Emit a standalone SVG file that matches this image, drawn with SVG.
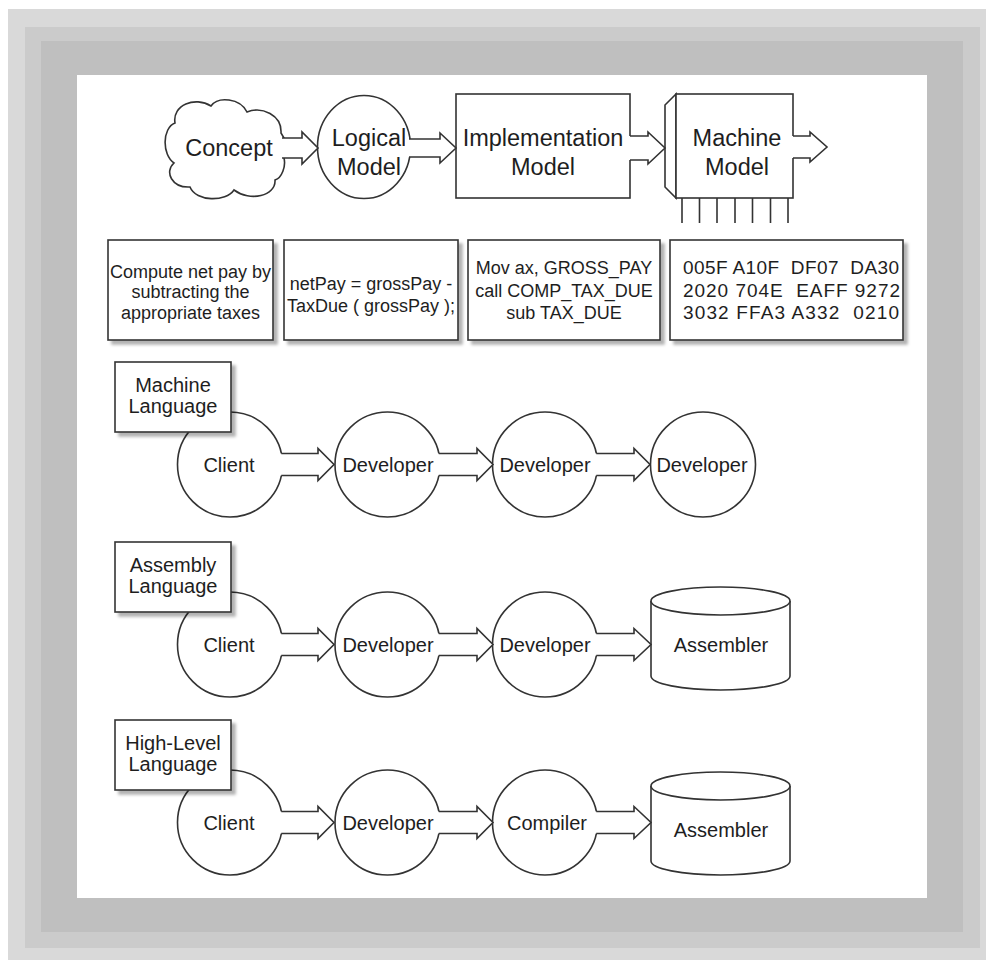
<svg xmlns="http://www.w3.org/2000/svg" width="986" height="960" viewBox="0 0 986 960">
<defs>
<filter id="sh" x="-10%" y="-10%" width="130%" height="130%"><feDropShadow dx="4" dy="4" stdDeviation="1.5" flood-color="#000" flood-opacity="0.3"/></filter>
<style>
.s{fill:#fff;stroke:#333;stroke-width:1.6}
.ln{fill:none;stroke:#333;stroke-width:1.6}
.af{fill:#fff;stroke:none}
.t{font-family:"Liberation Sans",Arial,sans-serif;fill:#1e1e1e;text-anchor:middle}
.l{text-anchor:start;white-space:pre}
.big{font-size:23.5px}
.mid{font-size:20px}
.sm{font-size:18px}
.hx{font-size:19px}
</style>
</defs>
<rect x="0" y="0" width="986" height="960" fill="#fff"/>
<rect x="8" y="9" width="978" height="951" fill="#d9d9d9"/>
<rect x="25" y="27" width="955" height="921" fill="#cbcbcb"/>
<rect x="41" y="41" width="922" height="891" fill="#bfbfbf"/>
<rect x="77" y="75" width="850" height="823" fill="#fff"/>

<g id="concept">
<path class="s" d="M175,123 C172,105 195,96 211,106 C218,96 240,98 247,112 C262,106 282,115 281,133 L284,138 L284,158 C286,166 282,178 275,180 C276,196 250,202 234,190 C226,202 196,202 190,187 C172,188 164,172 174,163 C162,155 162,128 175,123 Z"/>
<text class="t big" x="229" y="156">Concept</text>
</g>
<g id="logical">
<ellipse class="s" cx="364" cy="147" rx="46.5" ry="51.5"/>
<text class="t big" x="369" y="146">Logical</text>
<text class="t big" x="369" y="175">Model</text>
</g>
<g id="implementation">
<rect class="s" x="456" y="94" width="174" height="104"/>
<text class="t big" x="543" y="146">Implementation</text>
<text class="t big" x="543" y="175">Model</text>
</g>
<g id="machine">
<polygon class="s" points="676,94 665,105 665,187 676,198"/>
<rect class="s" x="676" y="94" width="117" height="104"/>
<path class="ln" d="M682,198V223M699.5,198V223M717,198V223M735,198V223M752.5,198V223M770.5,198V223M788,198V223"/>
<text class="t big" x="737" y="146">Machine</text>
<text class="t big" x="737" y="175">Model</text>
</g>

<g id="box-concept" filter="url(#sh)">
<rect class="s" x="108" y="240" width="165" height="100"/>
</g>
<g id="box-concept-text">
<text class="t sm" x="190.5" y="278">Compute net pay by</text>
<text class="t sm" x="190.5" y="298">subtracting the</text>
<text class="t sm" x="190.5" y="319">appropriate taxes</text>
</g>
<g id="box-logical" filter="url(#sh)">
<rect class="s" x="284" y="240" width="174" height="100"/>
</g>
<g id="box-logical-text">
<text class="t sm" x="371" y="290">netPay = grossPay -</text>
<text class="t sm" x="371" y="312">TaxDue ( grossPay );</text>
</g>
<g id="box-impl" filter="url(#sh)">
<rect class="s" x="468" y="240" width="192" height="100"/>
</g>
<g id="box-impl-text">
<text class="t sm" x="564" y="274">Mov ax, GROSS_PAY</text>
<text class="t sm" x="564" y="297">call COMP_TAX_DUE</text>
<text class="t sm" x="564" y="319">sub TAX_DUE</text>
</g>
<g id="box-machine" filter="url(#sh)">
<rect class="s" x="670" y="240" width="233" height="100"/>
</g>
<g id="box-machine-text">
<text class="t hx l" x="683" y="274" textLength="216" lengthAdjust="spacing" xml:space="preserve">005F A10F  DF07  DA30</text>
<text class="t hx l" x="683" y="297" textLength="217" lengthAdjust="spacing" xml:space="preserve">2020 704E  EAFF 9272</text>
<text class="t hx l" x="683" y="319" textLength="216" lengthAdjust="spacing" xml:space="preserve">3032 FFA3 A332  0210</text>
</g>

<g id="r1-client"><circle class="s" cx="230" cy="464.5" r="52.5"/><text class="t mid" x="229" y="472">Client</text></g>
<g id="r1-dev1"><circle class="s" cx="387.5" cy="464.5" r="52.5"/><text class="t mid" x="388" y="472">Developer</text></g>
<g id="r1-dev2"><circle class="s" cx="545" cy="464.5" r="52.5"/><text class="t mid" x="545" y="472">Developer</text></g>
<g id="r1-dev3"><circle class="s" cx="703" cy="464.5" r="52.5"/><text class="t mid" x="702" y="472">Developer</text></g>
<g id="r1-label"><rect class="s" filter="url(#sh)" x="115" y="362" width="116" height="70"/><text class="t mid" x="173" y="392">Machine</text><text class="t mid" x="173" y="413">Language</text></g>

<g id="r2-client"><circle class="s" cx="230" cy="644.5" r="52.5"/><text class="t mid" x="229" y="652">Client</text></g>
<g id="r2-dev1"><circle class="s" cx="387.5" cy="644.5" r="52.5"/><text class="t mid" x="388" y="652">Developer</text></g>
<g id="r2-dev2"><circle class="s" cx="545" cy="644.5" r="52.5"/><text class="t mid" x="545" y="652">Developer</text></g>
<g id="r2-asm"><path class="s" d="M651,601 L651,676 A69.5,14 0 0 0 790,676 L790,601"/><ellipse class="s" cx="720.5" cy="601" rx="69.5" ry="14"/><text class="t mid" x="721" y="652">Assembler</text></g>
<g id="r2-label"><rect class="s" filter="url(#sh)" x="115" y="542" width="116" height="70"/><text class="t mid" x="173" y="572">Assembly</text><text class="t mid" x="173" y="593">Language</text></g>

<g id="r3-client"><circle class="s" cx="230" cy="822.5" r="52.5"/><text class="t mid" x="229" y="830">Client</text></g>
<g id="r3-dev"><circle class="s" cx="387.5" cy="822.5" r="52.5"/><text class="t mid" x="388" y="830">Developer</text></g>
<g id="r3-compiler"><circle class="s" cx="545" cy="822.5" r="52.5"/><text class="t mid" x="547" y="830">Compiler</text></g>
<g id="r3-asm"><path class="s" d="M651,786 L651,861 A69.5,14 0 0 0 790,861 L790,786"/><ellipse class="s" cx="720.5" cy="786" rx="69.5" ry="14"/><text class="t mid" x="721" y="837">Assembler</text></g>
<g id="r3-label"><rect class="s" filter="url(#sh)" x="115" y="720" width="116" height="70"/><text class="t mid" x="173" y="750">High-Level</text><text class="t mid" x="173" y="771">Language</text></g>

<g id="connectors">
<polygon class="af" points="278,138 302,138 302,132 318,148 302,164 302,158 278,158"/>
<polyline class="ln" points="282,138 302,138 302,132 318,148 302,164 302,158 282,158"/>
<polygon class="af" points="405,139 440,139 440,133 456,148 440,163 440,157 405,157"/>
<polyline class="ln" points="409,139 440,139 440,133 456,148 440,163 440,157 409,157"/>
<polygon class="af" points="628,136 648,136 648,132 665,148 648,164 648,160 628,160"/>
<polyline class="ln" points="630,136 648,136 648,132 665,148 648,164 648,160 630,160"/>
<polygon class="af" points="791,136 810,136 810,132 827,147 810,162 810,158 791,158"/>
<polyline class="ln" points="793,136 810,136 810,132 827,147 810,162 810,158 793,158"/>

<polygon class="af" points="279,453.5 318,453.5 318,448.5 334,464.5 318,480.5 318,475.5 279,475.5"/>
<polyline class="ln" points="281.3,453.5 318,453.5 318,448.5 334,464.5 318,480.5 318,475.5 281.3,475.5"/>
<polygon class="af" points="436.5,453.5 477,453.5 477,448.5 493,464.5 477,480.5 477,475.5 436.5,475.5"/>
<polyline class="ln" points="438.8,453.5 477,453.5 477,448.5 493,464.5 477,480.5 477,475.5 438.8,475.5"/>
<polygon class="af" points="594,453.5 634,453.5 634,448.5 650,464.5 634,480.5 634,475.5 594,475.5"/>
<polyline class="ln" points="596.3,453.5 634,453.5 634,448.5 650,464.5 634,480.5 634,475.5 596.3,475.5"/>

<polygon class="af" points="279,633.5 318,633.5 318,628.5 334,644.5 318,660.5 318,655.5 279,655.5"/>
<polyline class="ln" points="281.3,633.5 318,633.5 318,628.5 334,644.5 318,660.5 318,655.5 281.3,655.5"/>
<polygon class="af" points="436.5,633.5 477,633.5 477,628.5 493,644.5 477,660.5 477,655.5 436.5,655.5"/>
<polyline class="ln" points="438.8,633.5 477,633.5 477,628.5 493,644.5 477,660.5 477,655.5 438.8,655.5"/>
<polygon class="af" points="594,633.5 634,633.5 634,628.5 651,644.5 634,660.5 634,655.5 594,655.5"/>
<polyline class="ln" points="596.3,633.5 634,633.5 634,628.5 651,644.5 634,660.5 634,655.5 596.3,655.5"/>

<polygon class="af" points="279,811.5 318,811.5 318,806.5 334,822.5 318,838.5 318,833.5 279,833.5"/>
<polyline class="ln" points="281.3,811.5 318,811.5 318,806.5 334,822.5 318,838.5 318,833.5 281.3,833.5"/>
<polygon class="af" points="436.5,811.5 477,811.5 477,806.5 493,822.5 477,838.5 477,833.5 436.5,833.5"/>
<polyline class="ln" points="438.8,811.5 477,811.5 477,806.5 493,822.5 477,838.5 477,833.5 438.8,833.5"/>
<polygon class="af" points="594,811.5 634,811.5 634,806.5 651,822.5 634,838.5 634,833.5 594,833.5"/>
<polyline class="ln" points="596.3,811.5 634,811.5 634,806.5 651,822.5 634,838.5 634,833.5 596.3,833.5"/>
</g>
</svg>
